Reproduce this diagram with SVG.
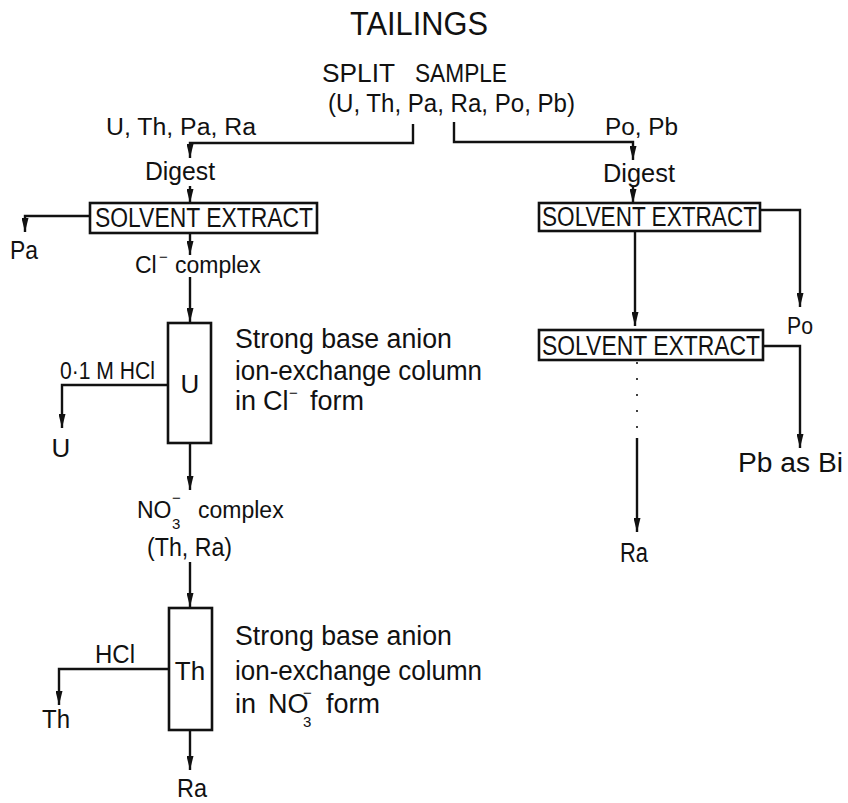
<svg xmlns="http://www.w3.org/2000/svg" width="848" height="803" viewBox="0 0 848 803">
<style>
text{font-family:"Liberation Sans","DejaVu Sans",sans-serif;fill:#111;font-size:26px}
.t{font-size:34px}
.h{font-size:26px}
.bx{font-size:27px}
.d{font-size:27px}
.s{font-size:23px}
.sm{font-size:15px}
.c{text-anchor:middle}
.box{fill:#fff;stroke:#111;stroke-width:2.6}
.ln{fill:none;stroke:#111;stroke-width:2.4}
.dot{fill:none;stroke:#111;stroke-width:1.6;stroke-dasharray:2 14}
</style>
<defs>
<marker id="ah" viewBox="0 0 14 7" refX="14" refY="3.5" markerWidth="14" markerHeight="7" markerUnits="userSpaceOnUse" orient="auto">
<path d="M0,0 L14,3.5 L0,7 z" fill="#111"/>
</marker>
</defs>
<rect width="848" height="803" fill="#fff"/>
<g id="connectors">
<path class="ln" d="M413,124 V143 H190 V158" marker-end="url(#ah)"/>
<path class="ln" d="M190,186 V203" marker-end="url(#ah)"/>
<path class="ln" d="M90,216 H25 V232" marker-end="url(#ah)"/>
<path class="ln" d="M190,233 V255" marker-end="url(#ah)"/>
<path class="ln" d="M190,277 V322" marker-end="url(#ah)"/>
<path class="ln" d="M168,385 H62 V428" marker-end="url(#ah)"/>
<path class="ln" d="M190,443 V490" marker-end="url(#ah)"/>
<path class="ln" d="M190,562 V607" marker-end="url(#ah)"/>
<path class="ln" d="M169,669 H59 V705" marker-end="url(#ah)"/>
<path class="ln" d="M190,730 V770" marker-end="url(#ah)"/>
<path class="ln" d="M454,122 V142 H633 V160" marker-end="url(#ah)"/>
<path class="ln" d="M633,186 V203" marker-end="url(#ah)"/>
<path class="ln" d="M760,210 H800 V307" marker-end="url(#ah)"/>
<path class="ln" d="M635,231 V326" marker-end="url(#ah)"/>
<path class="ln" d="M763,346 H800 V448" marker-end="url(#ah)"/>
<path class="dot" d="M637,362 V438"/>
<path class="ln" d="M637,438 V532" marker-end="url(#ah)"/>
</g>
<g id="title">
<text class="t" x="350" y="35" textLength="138" lengthAdjust="spacingAndGlyphs">TAILINGS</text>
</g>
<g id="split">
<text class="h" x="322" y="82" textLength="73" lengthAdjust="spacingAndGlyphs">SPLIT</text>
<text class="h" x="415" y="82" textLength="92" lengthAdjust="spacingAndGlyphs">SAMPLE</text>
<text class="h" x="328" y="112" textLength="247" lengthAdjust="spacingAndGlyphs">(U, Th, Pa, Ra, Po, Pb)</text>
</g>
<g id="left-branch">
<text class="s" x="106" y="135" textLength="150" lengthAdjust="spacingAndGlyphs">U, Th, Pa, Ra</text>
<text x="145" y="180" textLength="70" lengthAdjust="spacingAndGlyphs">Digest</text>
</g>
<g id="solvent-left">
<rect class="box" x="90" y="203" width="227" height="30"/>
<text class="bx" x="95" y="227" textLength="218" lengthAdjust="spacingAndGlyphs">SOLVENT EXTRACT</text>
</g>
<g id="pa">
<text x="10" y="259" textLength="28" lengthAdjust="spacingAndGlyphs">Pa</text>
</g>
<g id="cl-complex">
<text class="s" x="135" y="273">Cl<tspan class="sm" x="159" y="262">−</tspan><tspan x="175" y="273">complex</tspan></text>
</g>
<g id="u-column">
<rect class="box" x="168" y="323" width="43" height="120"/>
<text class="c" x="190" y="393">U</text>
<text class="s" x="60" y="379" textLength="95" lengthAdjust="spacingAndGlyphs">0·1 M HCl</text>
<text class="c" x="61" y="457">U</text>
<text class="d" x="235" y="348" textLength="217" lengthAdjust="spacingAndGlyphs">Strong base anion</text>
<text class="d" x="235" y="380" textLength="247" lengthAdjust="spacingAndGlyphs">ion-exchange column</text>
<text class="d" x="235" y="410">in<tspan x="263" y="410">Cl</tspan><tspan class="sm" x="289" y="398">−</tspan><tspan x="310" y="410">form</tspan></text>
</g>
<g id="no3-complex">
<text class="s" x="137" y="518">NO<tspan class="sm" x="172" y="529">3</tspan><tspan class="sm" x="172" y="503">−</tspan><tspan x="198" y="518">complex</tspan></text>
<text x="147" y="556" textLength="85" lengthAdjust="spacingAndGlyphs">(Th, Ra)</text>
</g>
<g id="th-column">
<rect class="box" x="169" y="608" width="43" height="122"/>
<text class="c" x="190" y="680">Th</text>
<text x="95" y="663" textLength="40" lengthAdjust="spacingAndGlyphs">HCl</text>
<text x="42" y="728" textLength="28" lengthAdjust="spacingAndGlyphs">Th</text>
<text x="177" y="797" textLength="30" lengthAdjust="spacingAndGlyphs">Ra</text>
<text class="d" x="235" y="645" textLength="217" lengthAdjust="spacingAndGlyphs">Strong base anion</text>
<text class="d" x="235" y="680" textLength="247" lengthAdjust="spacingAndGlyphs">ion-exchange column</text>
<text class="d" x="235" y="713">in<tspan x="268" y="713">NO</tspan><tspan class="sm" x="303" y="727">3</tspan><tspan class="sm" x="303" y="698">−</tspan><tspan x="326" y="713">form</tspan></text>
</g>
<g id="right-branch">
<text class="s" x="605" y="135" textLength="73" lengthAdjust="spacingAndGlyphs">Po, Pb</text>
<text x="603" y="182" textLength="72" lengthAdjust="spacingAndGlyphs">Digest</text>
</g>
<g id="solvent-right-1">
<rect class="box" x="539" y="203" width="221" height="28"/>
<text class="bx" x="542" y="226" textLength="215" lengthAdjust="spacingAndGlyphs">SOLVENT EXTRACT</text>
</g>
<g id="po">
<text class="s" x="787" y="334" textLength="26" lengthAdjust="spacingAndGlyphs">Po</text>
</g>
<g id="solvent-right-2">
<rect class="box" x="539" y="330" width="224" height="30"/>
<text class="bx" x="542" y="355" textLength="218" lengthAdjust="spacingAndGlyphs">SOLVENT EXTRACT</text>
</g>
<g id="pb-bi">
<text class="d" x="738" y="472" textLength="105" lengthAdjust="spacingAndGlyphs">Pb as Bi</text>
</g>
<g id="ra-right">
<text class="d" x="620" y="562" textLength="28" lengthAdjust="spacingAndGlyphs">Ra</text>
</g>
</svg>
